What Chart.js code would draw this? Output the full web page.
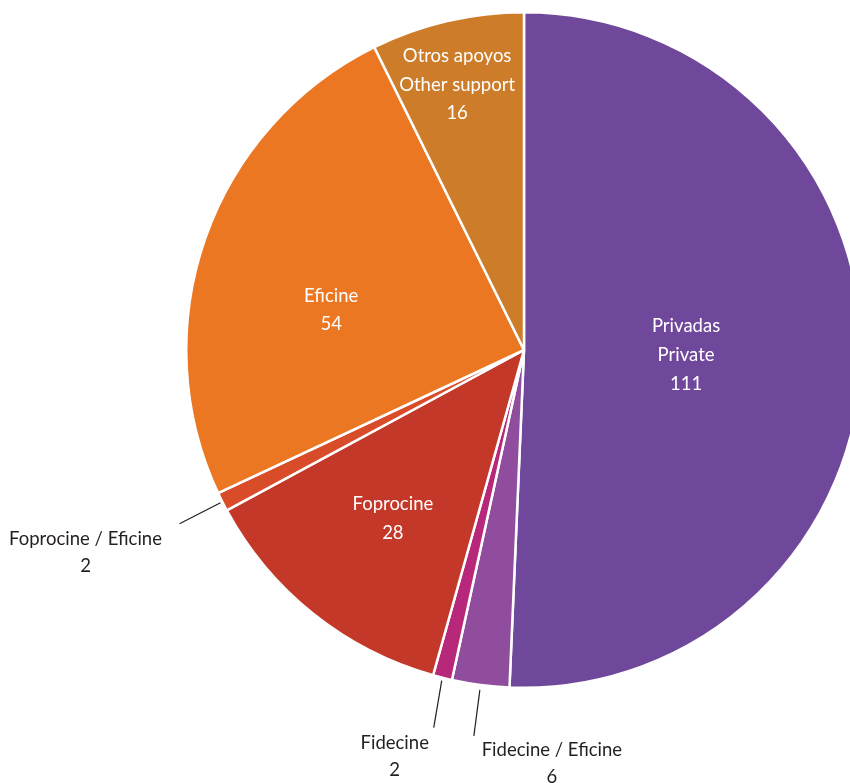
<!DOCTYPE html>
<html>
<head>
<meta charset="utf-8">
<script src="https://cdn.jsdelivr.net/npm/chart.js@4"></script>
<style>
  html, body { margin: 0; padding: 0; background: #fff; overflow: hidden; }
  #wrap { width: 850px; height: 783px; overflow: hidden; position: relative; }
  #wrap canvas { position: absolute; left: 0; top: 0; }
</style>
</head>
<body>
<div id="wrap"><canvas id="pieChart" width="1048" height="783"></canvas></div>
<script>
// Data
const labelsEs = ['Privadas', 'Fidecine / Eficine', 'Fidecine', 'Foprocine', 'Foprocine / Eficine', 'Eficine', 'Otros apoyos'];
const labelsEn = ['Private', '', '', '', '', '', 'Other support'];
const values = [111, 6, 2, 28, 2, 54, 16];
const colors = ['#70489B', '#904D9E', '#B8287A', '#C43829', '#D94C2A', '#EC7723', '#CD7D2A'];

// label placement (inside = white text on slice, outside = leader line)
const placement = [
    { inside: true, r: 0.48, da: 0.5 },
    { inside: false, gap: 5, lineEnd: [-6, 46], text: [72, 60] },
    { inside: false, gap: 3, lineEnd: [-8, 47], text: [-47, 62] },
    { inside: true, r: 0.633, da: -0.8 },
    { inside: false, gap: 2, lineEnd: [-41, 21], text: [-135, 36] },
    { inside: true, r: 0.583, da: -7.6 },
    { inside: true, r: 0.81, da: -1 }
];

const labelPlugin = {
    id: 'sliceLabels',
    afterDraw(chart) {
        const ctx = chart.ctx;
        const arcs = chart.getDatasetMeta(0).data;
        ctx.save();
        ctx.font = '18.5px Lato, "Open Sans", sans-serif';
        ctx.textAlign = 'center';
        ctx.textBaseline = 'middle';
        arcs.forEach((arc, i) => {
            const p = placement[i];
            const { x, y, startAngle, endAngle, outerRadius } = arc.getProps(['x', 'y', 'startAngle', 'endAngle', 'outerRadius'], true);
            const mid = (startAngle + endAngle) / 2 + (p.da || 0) * Math.PI / 180;
            const lines = [labelsEs[i]];
            if (labelsEn[i]) lines.push(labelsEn[i]);
            lines.push(String(values[i]));
            if (p.inside) {
                const cx = x + Math.cos(mid) * outerRadius * p.r;
                const cy = y + Math.sin(mid) * outerRadius * p.r;
                ctx.fillStyle = '#ffffff';
                const h = 28.8;
                lines.forEach((t, k) => {
                    ctx.fillText(t, cx, cy + (k - (lines.length - 1) / 2) * h);
                });
            } else {
                const ex = x + Math.cos(mid) * (outerRadius + p.gap);
                const ey = y + Math.sin(mid) * (outerRadius + p.gap);
                ctx.strokeStyle = '#231f20';
                ctx.lineWidth = 1.2;
                ctx.beginPath();
                ctx.moveTo(ex, ey);
                ctx.lineTo(ex + p.lineEnd[0], ey + p.lineEnd[1]);
                ctx.stroke();
                const tx = ex + p.text[0];
                const ty = ey + p.text[1];
                ctx.fillStyle = '#231f20';
                lines.forEach((t, k) => {
                    ctx.fillText(t, tx, ty + k * 27);
                });
            }
        });
        ctx.restore();
    }
};

const pieChart = new Chart(document.getElementById('pieChart'), {
    type: 'pie',
    data: {
        labels: labelsEs,
        datasets: [{
            data: values,
            backgroundColor: colors,
            borderColor: '#ffffff',
            borderWidth: 2.5
        }]
    },
    options: {
        responsive: false,
        animation: false,
        layout: { padding: { top: 11, bottom: 94, left: 0, right: 0 } },
        plugins: {
            legend: { display: false },
            tooltip: { enabled: false }
        }
    },
    plugins: [labelPlugin]
});
</script>
</body>
</html>
